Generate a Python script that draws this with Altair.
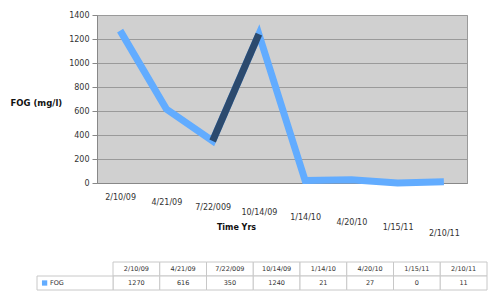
import altair as alt
import pandas as pd

# ---- data ----
dates = ["2/10/09", "4/21/09", "7/22/009", "10/14/09", "1/14/10", "4/20/10", "1/15/11", "2/10/11"]
fog = [1270, 616, 350, 1240, 21, 27, 0, 11]
series_name = "FOG"
y_ticks = [0, 200, 400, 600, 800, 1000, 1200, 1400]
rising_pair = ["7/22/009", "10/14/09"]   # segment drawn in the darker (side) shade

FONT = "DejaVu Sans"
LIGHT = "#62acff"
DARK = "#2c4a6e"
TXT = "#333333"

df = pd.DataFrame({"date": dates, "fog": fog})

xscale = alt.Scale(type="point", domain=dates, padding=0.5)
yscale = alt.Scale(domain=[0, 1400])

x_axis = alt.Axis(
    title="Time Yrs", titleFont=FONT, titleFontSize=8, titleFontWeight="bold",
    titleColor="#111", titleX=139, titleY=44, titleAlign="center", titleBaseline="middle",
    labelFont=FONT, labelFontSize=8, labelColor=TXT, labelAngle=0, labelBaseline="top",
    labelPadding={"condition": {"test": "false", "value": 10}, "expr": "10 + 36*datum.index"},
    ticks=False, tickSize=0, domainColor="#888888", grid=False,
)
y_axis = alt.Axis(
    values=y_ticks, format="d", title="FOG (mg/l)", titleFont=FONT, titleFontSize=8.5,
    titleFontWeight="bold", titleColor="#111", titleAngle=0, titleAlign="left",
    titleBaseline="middle", titleX=-87, titleY=87,
    labelFont=FONT, labelFontSize=8, labelColor=TXT, labelPadding=3,
    tickColor="#888888", tickSize=5, domainColor="#888888",
    grid=True, gridColor="#9a9a9a", gridWidth=1,
)

base = alt.Chart(df)
line = base.mark_line(color=LIGHT, strokeWidth=7, strokeJoin="miter").encode(
    x=alt.X("date:N", sort=dates, scale=xscale, axis=x_axis),
    y=alt.Y("fog:Q", scale=yscale, axis=y_axis),
)
dark = base.transform_filter(
    alt.FieldOneOfPredicate(field="date", oneOf=rising_pair)
).mark_line(color=DARK, strokeWidth=7).encode(
    x=alt.X("date:N", sort=dates, scale=xscale, axis=None),
    y=alt.Y("fog:Q", scale=yscale, axis=None),
)

# ---- data table below the chart ----
rows = ["h", "d"]
tdf = pd.DataFrame({
    "row": ["h"] * len(dates) + ["d"] * len(dates),
    "col": dates + dates,
    "txt": dates + [str(v) for v in fog],
})
ldf = pd.DataFrame({"row": ["d"], "col": ["label"], "txt": [series_name]})

tx = alt.Scale(type="band", domain=dates, range=[16, 390], paddingInner=0, paddingOuter=0)
lx = alt.Scale(type="band", domain=["label"], range=[-60, 16], paddingInner=0, paddingOuter=0)
ty = alt.Scale(type="band", domain=rows, range=[247, 275], paddingInner=0, paddingOuter=0)

cells = alt.Chart(tdf).mark_rect(fill="white", stroke="#c8c8c8", strokeWidth=1).encode(
    x=alt.X("col:N", scale=tx, axis=None), y=alt.Y("row:N", scale=ty, axis=None))
ctext = alt.Chart(tdf).mark_text(font=FONT, fontSize=6.5, color=TXT).encode(
    x=alt.X("col:N", scale=tx, axis=None), y=alt.Y("row:N", scale=ty, axis=None),
    text="txt:N")
lcell = alt.Chart(ldf).mark_rect(fill="white", stroke="#c8c8c8", strokeWidth=1).encode(
    x=alt.X("col:N", scale=lx, axis=None), y=alt.Y("row:N", scale=ty, axis=None))
lsym = alt.Chart(ldf).mark_square(size=28, color=LIGHT, opacity=1).encode(
    x=alt.X("col:N", scale=lx, axis=None, bandPosition=0.1),
    y=alt.Y("row:N", scale=ty, axis=None))
ltext = alt.Chart(ldf).mark_text(font=FONT, fontSize=6.5, color=TXT, align="left").encode(
    x=alt.X("col:N", scale=lx, axis=None, bandPosition=0.17),
    y=alt.Y("row:N", scale=ty, axis=None), text="txt:N")

chart = alt.layer(line, dark, cells, ctext, lcell, lsym, ltext).resolve_scale(
    x="independent", y="independent"
).properties(
    width=370, height=168,
    autosize=alt.AutoSizeParams(type="none"),
    padding={"left": 97, "top": 15, "right": 33, "bottom": 117},
    background="white",
).configure_view(fill="#d0d0d0", stroke="#9a9a9a")

chart.save("out.html", embed_options={"renderer": "svg", "actions": False})
